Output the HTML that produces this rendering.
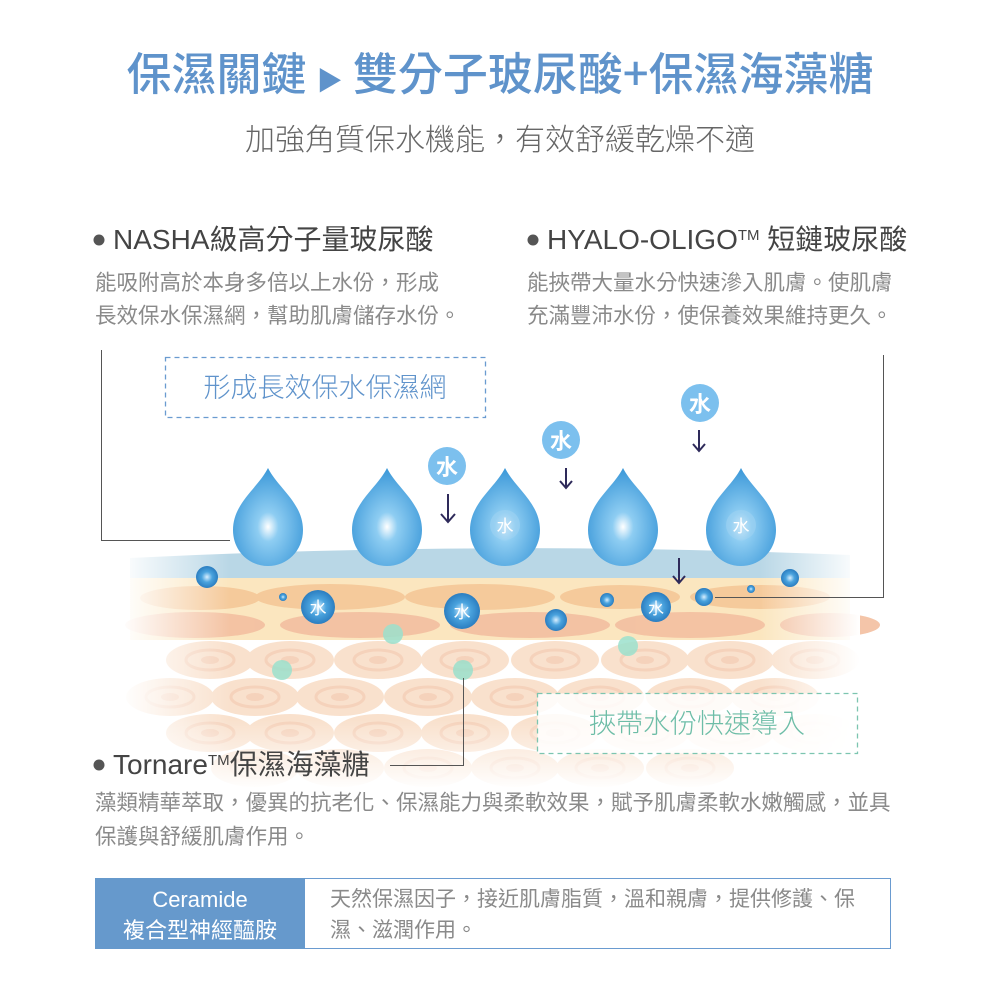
<!DOCTYPE html>
<html><head><meta charset="utf-8"><style>
html,body{margin:0;padding:0;background:#fff;}
svg{display:block;}
text{font-family:"Liberation Sans","Noto Sans CJK TC",sans-serif;}
.cj{font-family:"Noto Sans CJK TC","Liberation Sans",sans-serif;}
</style></head><body>
<svg width="1000" height="1000" viewBox="0 0 1000 1000" xmlns="http://www.w3.org/2000/svg">
<defs>
<radialGradient id="drop" cx="0.5" cy="0.6" r="0.6">
<stop offset="0" stop-color="#ffffff"/><stop offset="0.25" stop-color="#8ecdf2"/><stop offset="1" stop-color="#3a97d8"/></radialGradient>
<radialGradient id="ball" cx="0.5" cy="0.5" r="0.6">
<stop offset="0" stop-color="#d8efff"/><stop offset="0.4" stop-color="#4aa3de"/><stop offset="1" stop-color="#1f6fb5"/></radialGradient>
<linearGradient id="fadeL" x1="0" x2="1"><stop offset="0" stop-color="#fff" stop-opacity="1"/><stop offset="1" stop-color="#fff" stop-opacity="0"/></linearGradient>
<linearGradient id="fadeR" x1="1" x2="0"><stop offset="0" stop-color="#fff" stop-opacity="1"/><stop offset="1" stop-color="#fff" stop-opacity="0"/></linearGradient>
<linearGradient id="fadeB" x1="0" y1="0" x2="0" y2="1"><stop offset="0" stop-color="#fff" stop-opacity="0"/><stop offset="1" stop-color="#fff" stop-opacity="1"/></linearGradient>
<g id="cell"><ellipse rx="44" ry="19" fill="#f9dcc5"/><ellipse rx="24" ry="10" fill="none" stroke="#f4cbb0" stroke-width="3"/><ellipse rx="9" ry="4" fill="#f4cbb0"/></g>
<path id="dropshape" d="M0,-50 C10,-30 35,-15 35,12 C35,33 19,48 0,48 C-19,48 -35,33 -35,12 C-35,-15 -10,-30 0,-50Z"/>
</defs>

<!-- title -->
<text class="cj" x="500" y="90" text-anchor="middle" font-size="45" fill="#5f93cb" font-weight="500">保濕關鍵 <tspan font-size="26">▶</tspan> 雙分子玻尿酸+保濕海藻糖</text>
<text class="cj" x="500" y="150" text-anchor="middle" font-size="30" fill="#666" font-weight="300">加強角質保水機能，有效舒緩乾燥不適</text>

<!-- bullets -->
<circle cx="99" cy="240" r="5.5" fill="#555"/>
<text x="113" y="249" font-size="28" fill="#444">NASHA級高分子量玻尿酸</text>
<text x="95" y="290" font-size="21.5" fill="#8a8a8a">能吸附高於本身多倍以上水份，形成</text>
<text x="95" y="323" font-size="21.5" fill="#8a8a8a">長效保水保濕網，幫助肌膚儲存水份。</text>

<circle cx="533" cy="240" r="5.5" fill="#555"/>
<text x="547" y="249" font-size="28" fill="#444">HYALO-OLIGO<tspan font-size="15" dy="-9">TM</tspan><tspan dy="9"> 短鏈玻尿酸</tspan></text>
<text x="527" y="290" font-size="21.5" fill="#8a8a8a">能挾帶大量水分快速滲入肌膚。使肌膚</text>
<text x="527" y="323" font-size="21.5" fill="#8a8a8a">充滿豐沛水份，使保養效果維持更久。</text>

<!-- skin illustration -->
<g>
<rect x="130" y="575" width="720" height="65" fill="#fbe6bf"/>
<path d="M130,558 Q490,540 850,555 L850,578 L130,578Z" fill="#b9d7e6"/>
<g fill="#f5c898" opacity="0.9">
<ellipse cx="200" cy="598" rx="60" ry="12"/><ellipse cx="330" cy="597" rx="75" ry="13"/><ellipse cx="480" cy="597" rx="75" ry="13"/><ellipse cx="620" cy="597" rx="60" ry="12"/><ellipse cx="760" cy="597" rx="70" ry="12"/>
</g>
<g fill="#f3bfa0" opacity="0.9">
<ellipse cx="195" cy="625" rx="70" ry="13"/><ellipse cx="360" cy="625" rx="80" ry="13"/><ellipse cx="530" cy="625" rx="80" ry="13"/><ellipse cx="690" cy="625" rx="75" ry="13"/><ellipse cx="830" cy="625" rx="50" ry="12"/>
</g>
<g opacity="0.85">
<use href="#cell" x="210" y="660"/><use href="#cell" x="290" y="660"/><use href="#cell" x="378" y="660"/><use href="#cell" x="465" y="660"/><use href="#cell" x="555" y="660"/><use href="#cell" x="645" y="660"/><use href="#cell" x="730" y="660"/><use href="#cell" x="815" y="660"/>
<use href="#cell" x="170" y="697"/><use href="#cell" x="255" y="697"/><use href="#cell" x="340" y="697"/><use href="#cell" x="428" y="697"/><use href="#cell" x="515" y="697"/><use href="#cell" x="600" y="697"/><use href="#cell" x="690" y="697"/><use href="#cell" x="775" y="697"/>
<use href="#cell" x="210" y="733"/><use href="#cell" x="290" y="733"/><use href="#cell" x="378" y="733"/><use href="#cell" x="465" y="733"/><use href="#cell" x="555" y="733"/><use href="#cell" x="645" y="733"/><use href="#cell" x="730" y="733"/><use href="#cell" x="815" y="733"/>
<use href="#cell" x="255" y="768"/><use href="#cell" x="340" y="768"/><use href="#cell" x="428" y="768"/><use href="#cell" x="515" y="768"/><use href="#cell" x="600" y="768"/><use href="#cell" x="690" y="768"/>
</g>
<rect x="120" y="540" width="110" height="250" fill="url(#fadeL)"/>
<rect x="760" y="540" width="100" height="250" fill="url(#fadeR)"/>
<rect x="120" y="720" width="740" height="70" fill="url(#fadeB)"/>
</g>

<!-- green dots -->
<g fill="#9be0cc" opacity="0.85">
<circle cx="393" cy="634" r="10"/><circle cx="282" cy="670" r="10"/><circle cx="463" cy="670" r="10"/><circle cx="628" cy="646" r="10"/>
</g>

<!-- drops -->
<g>
<use href="#dropshape" x="268" y="518" fill="url(#drop)"/>
<use href="#dropshape" x="387" y="518" fill="url(#drop)"/>
<use href="#dropshape" x="505" y="518" fill="url(#drop)"/>
<use href="#dropshape" x="623" y="518" fill="url(#drop)"/>
<use href="#dropshape" x="741" y="518" fill="url(#drop)"/>
<circle cx="505" cy="525" r="15" fill="#9fd2f1" opacity="0.6"/>
<circle cx="741" cy="525" r="15" fill="#9fd2f1" opacity="0.6"/>
<text x="505" y="532" font-size="17" fill="#fff" text-anchor="middle">水</text>
<text x="741" y="532" font-size="17" fill="#fff" text-anchor="middle">水</text>
</g>

<!-- inner balls -->
<g>
<circle cx="207" cy="577" r="11" fill="url(#ball)"/>
<circle cx="283" cy="597" r="4" fill="url(#ball)"/>
<circle cx="318" cy="607" r="17" fill="url(#ball)"/><text x="318" y="614" font-size="17" fill="#fff" text-anchor="middle">水</text>
<circle cx="462" cy="611" r="18" fill="url(#ball)"/><text x="462" y="618" font-size="17" fill="#fff" text-anchor="middle">水</text>
<circle cx="556" cy="620" r="11" fill="url(#ball)"/>
<circle cx="607" cy="600" r="7" fill="url(#ball)"/>
<circle cx="656" cy="607" r="15" fill="url(#ball)"/><text x="656" y="614" font-size="16" fill="#fff" text-anchor="middle">水</text>
<circle cx="704" cy="597" r="9" fill="url(#ball)"/>
<circle cx="751" cy="589" r="4" fill="url(#ball)"/>
<circle cx="790" cy="578" r="9" fill="url(#ball)"/>
</g>

<!-- falling water -->
<g>
<circle cx="447" cy="466" r="19" fill="#7cc0ee"/><text x="447" y="475" font-size="22" fill="#fff" text-anchor="middle" font-weight="bold">水</text>
<circle cx="561" cy="440" r="19" fill="#7cc0ee"/><text x="561" y="449" font-size="22" fill="#fff" text-anchor="middle" font-weight="bold">水</text>
<circle cx="700" cy="403" r="19" fill="#7cc0ee"/><text x="700" y="412" font-size="22" fill="#fff" text-anchor="middle" font-weight="bold">水</text>
<g stroke="#2e2a5a" stroke-width="2" fill="none">
<path d="M448,494 V522 M441,514 L448,522 L455,514"/>
<path d="M566,468 V488 M560,481 L566,488 L572,481"/>
<path d="M699,430 V451 M693,444 L699,451 L705,444"/>
<path d="M679,558 V583 M673,576 L679,583 L685,576"/>
</g>
</g>

<!-- connectors -->
<g stroke="#555" stroke-width="1" fill="none">
<path d="M101.5,350 V540.5 H230"/>
<path d="M883.5,355 V597.5 H715"/>
<path d="M390,765.5 H463.5 V678"/>
</g>

<!-- dashed boxes -->
<rect x="165.5" y="357.5" width="320" height="60" fill="#fff" stroke="#6a9bd0" stroke-width="1.3" stroke-dasharray="5,4"/>
<text class="cj" x="325" y="397" text-anchor="middle" font-size="27" fill="#5f93cb" font-weight="300">形成長效保水保濕網</text>
<rect x="537.5" y="693.5" width="320" height="60" fill="#fff" fill-opacity="0.85" stroke="#7cc5b0" stroke-width="1.3" stroke-dasharray="5,4"/>
<text class="cj" x="697" y="733" text-anchor="middle" font-size="27" fill="#6dbda7" font-weight="300">挾帶水份快速導入</text>

<!-- Tornare -->
<circle cx="99" cy="765" r="5.5" fill="#555"/>
<text x="113" y="774" font-size="28" fill="#444">Tornare<tspan font-size="15" dy="-9">TM</tspan><tspan dy="9">保濕海藻糖</tspan></text>
<text x="95" y="810" font-size="21.5" fill="#8a8a8a">藻類精華萃取，優異的抗老化、保濕能力與柔軟效果，賦予肌膚柔軟水嫩觸感，並具</text>
<text x="95" y="844" font-size="21.5" fill="#8a8a8a">保護與舒緩肌膚作用。</text>

<!-- table -->
<rect x="95.5" y="878.5" width="795" height="70" fill="#fff" stroke="#6a9bd0" stroke-width="1"/>
<rect x="95" y="878" width="210" height="71" fill="#6699cc"/>
<text x="200" y="907" text-anchor="middle" font-size="22" fill="#fff">Ceramide</text>
<text x="200" y="938" text-anchor="middle" font-size="22" fill="#fff">複合型神經醯胺</text>
<text x="330" y="906" font-size="21" fill="#8a8a8a">天然保濕因子，接近肌膚脂質，溫和親膚，提供修護、保</text>
<text x="330" y="937" font-size="21" fill="#8a8a8a">濕、滋潤作用。</text>
</svg>
</body></html>
